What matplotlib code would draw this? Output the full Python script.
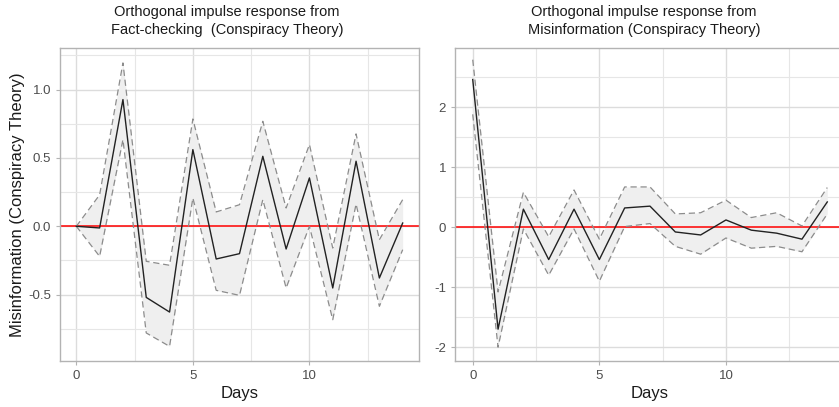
import matplotlib
matplotlib.use('Agg')
import matplotlib.pyplot as plt
from matplotlib.ticker import MultipleLocator

plt.rcParams['font.family'] = ['Liberation Sans', 'DejaVu Sans']

# days
days = list(range(15))

# impulse from Fact-checking
fc_irf = [0.0, -0.012, 0.927, -0.52, -0.627, 0.561, -0.239, -0.20, 0.512, -0.166, 0.354, -0.451, 0.476, -0.378, 0.024]
fc_upper = [0.0, 0.23, 1.195, -0.256, -0.285, 0.785, 0.105, 0.158, 0.768, 0.134, 0.598, -0.159, 0.676, -0.098, 0.195]
fc_lower = [0.0, -0.22, 0.634, -0.78, -0.878, 0.207, -0.468, -0.505, 0.195, -0.451, 0.0, -0.683, 0.163, -0.585, -0.171]

# impulse from Misinformation
mi_irf = [2.46, -1.70, 0.30, -0.54, 0.30, -0.54, 0.32, 0.35, -0.08, -0.13, 0.12, -0.05, -0.10, -0.20, 0.42]
mi_upper = [2.79, -1.08, 0.58, -0.16, 0.62, -0.20, 0.67, 0.67, 0.22, 0.24, 0.45, 0.16, 0.24, 0.02, 0.66]
mi_lower = [1.88, -2.00, -0.03, -0.80, -0.03, -0.90, 0.01, 0.06, -0.32, -0.45, -0.18, -0.35, -0.32, -0.41, 0.22]

W, H = 839, 407
fig = plt.figure(figsize=(W / 100, H / 100), dpi=100)

bottom = (H - 361) / H
height = (361 - 48) / H
ax1 = fig.add_axes([60 / W, bottom, (419 - 60) / W, height])
ax2 = fig.add_axes([455 / W, bottom, (845 - 455) / W, height])


def panel(ax, irf, up, lo, ylim, ymaj, ymin, yfmt):
    ax.set_facecolor('white')
    ax.fill_between(days, lo, up, color='#EFEFEF', lw=0, zorder=1)
    ax.axhline(0, color='red', lw=1.1, zorder=2)
    ax.plot(days, up, color='#8C8C8C', lw=0.9, dashes=(5, 3), zorder=3)
    ax.plot(days, lo, color='#8C8C8C', lw=0.9, dashes=(5, 3), zorder=3)
    ax.plot(days, irf, color='#222222', lw=1.0, zorder=4)
    ax.set_xlim(-0.7, 14.7)
    ax.set_ylim(*ylim)
    ax.xaxis.set_major_locator(MultipleLocator(5))
    ax.xaxis.set_minor_locator(MultipleLocator(2.5))
    ax.yaxis.set_major_locator(MultipleLocator(ymaj))
    ax.yaxis.set_minor_locator(MultipleLocator(ymin))
    ax.yaxis.set_major_formatter(yfmt)
    ax.grid(which='major', color='#DCDCDC', lw=1.0, zorder=0)
    ax.grid(which='minor', color='#E6E6E6', lw=0.8, zorder=0)
    ax.set_axisbelow(True)
    for s in ax.spines.values():
        s.set_color('#B3B3B3')
        s.set_linewidth(1.0)
    ax.tick_params(which='major', length=3, color='#B3B3B3', labelcolor='#4D4D4D', labelsize=9.5)
    ax.tick_params(which='minor', length=0)
    ax.set_xlabel('Days', fontsize=12, color='#1A1A1A', labelpad=3)


panel(ax1, fc_irf, fc_upper, fc_lower, (-0.985, 1.304), 0.5, 0.25, lambda v, p: f'{v:.1f}')
panel(ax2, mi_irf, mi_upper, mi_lower, (-2.23, 2.985), 1, 0.5, lambda v, p: f'{v:.0f}')
ax1.set_ylabel('Misinformation (Conspiracy Theory)', fontsize=12, color='#1A1A1A', labelpad=2)

tfont = ['Liberation Sans Narrow', 'Liberation Sans', 'DejaVu Sans']
fig.text(227 / W, 1 - 21 / H, 'Orthogonal impulse response from\nFact-checking  (Conspiracy Theory)',
         ha='center', va='center', fontsize=10.5, family=tfont, linespacing=1.45, color='#1A1A1A')
fig.text(644 / W, 1 - 21 / H, 'Orthogonal impulse response from\nMisinformation (Conspiracy Theory)',
         ha='center', va='center', fontsize=10.5, family=tfont, linespacing=1.45, color='#1A1A1A')

fig.savefig('out.png', dpi=100)
